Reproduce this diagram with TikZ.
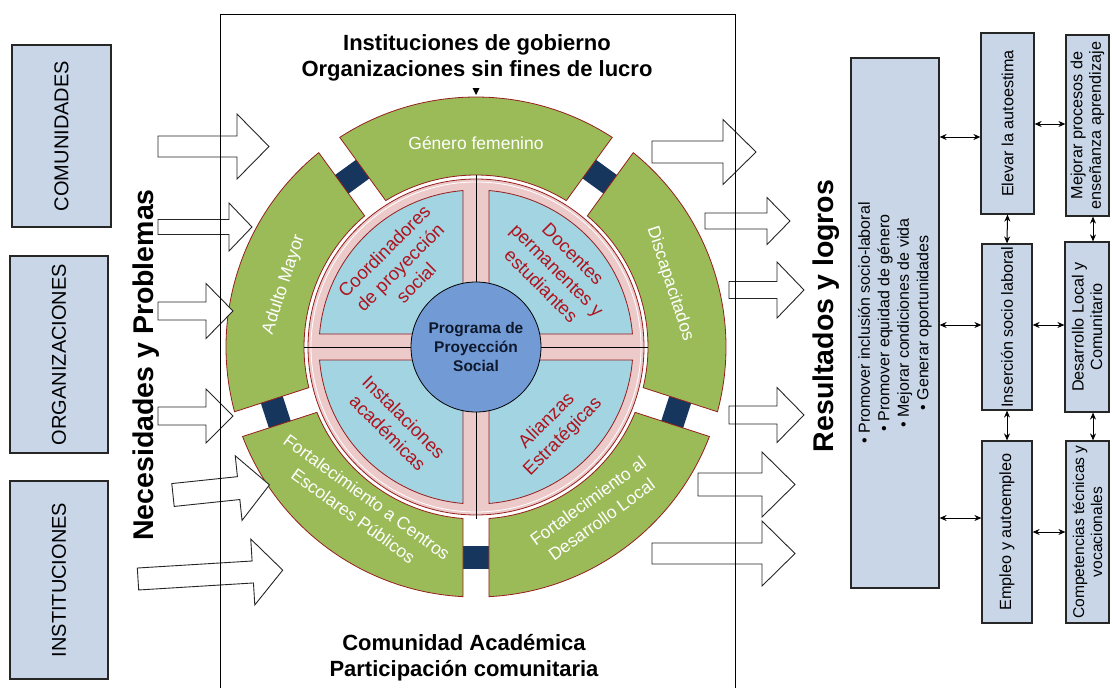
\documentclass[tikz,border=0pt]{standalone}
\usepackage{fontspec}
\setmainfont{Liberation Sans}
\usetikzlibrary{arrows.meta}
\definecolor{boxblue}{RGB}{200,214,232}
\definecolor{seggreen}{RGB}{155,187,89}
\definecolor{navyblue}{RGB}{23,54,93}
\definecolor{pinkring}{RGB}{236,202,202}
\definecolor{quadblue}{RGB}{163,212,226}
\definecolor{centerblue}{RGB}{114,155,214}
\definecolor{darkred}{RGB}{150,30,30}
\definecolor{qtextred}{RGB}{175,20,30}
\definecolor{centertext}{RGB}{15,25,45}
\newcommand{\FS}[2]{\fontsize{#1}{#2}\selectfont}
% block arrow: tail x, centre y, head-base x, tip x, shaft half, head half, angle
\newcommand{\blockarrow}[7]{%
  \begin{scope}[shift={(#1,#2)}, rotate=#7]
    \draw[barrow] (0,-#5) -- ({#3-#1},-#5) -- ({#3-#1},-#6) -- ({#4-#1},0)
      -- ({#3-#1},#6) -- ({#3-#1},#5) -- (0,#5) -- cycle;
  \end{scope}}
\newcommand{\wheelseg}[2]{%
  \draw[seg] ({#1+asin(13/172)}:172) -- ({#1+asin(13/250)}:250)
    arc[start angle={#1+asin(13/250)}, end angle={#2-asin(13/250)}, radius=250]
    -- ({#2-asin(13/172)}:172)
    arc[start angle={#2-asin(13/172)}, end angle={#1+asin(13/172)}, radius=172] -- cycle;}
\newcommand{\gapblock}[1]{%
  \draw[navyblk, rotate=#1] (199,-14) rectangle (222,14);}
\newcommand{\quadpiece}[1]{%
  \draw[quad, rotate=#1] (13,13) -- ({90-asin(13/157)}:157)
    arc[start angle={90-asin(13/157)}, end angle={asin(13/157)}, radius=157] -- cycle;}
\begin{document}
\begin{tikzpicture}[x=1pt, y=-1pt,
  barrow/.style={draw=black!85, fill=white, line width=0.9pt, line join=miter},
  seg/.style={fill=seggreen, draw=darkred, line width=0.8pt},
  navyblk/.style={fill=navyblue, draw=none},
  quad/.style={fill=quadblue, draw=darkred, line width=0.8pt},
  lbox/.style={draw=black!85, fill=boxblue, line width=1.2pt, inner sep=0pt},
  gtext/.style={text=white, font=\FS{17.5}{23}, align=center, inner sep=0pt},
  qt/.style={text=qtextred, font=\FS{18.5}{22.5}, align=center, inner sep=0pt},
  dbl/.style={{Stealth[length=7pt,width=6pt]}-{Stealth[length=7pt,width=6pt]}, line width=1pt},
  boxtext/.style={rotate=90, align=center, font=\FS{16.2}{18.5}, inner sep=0pt}]
\useasboundingbox (0,0) rectangle (1112,688);

% ---------- wheel ----------
\begin{scope}[shift={(476,347)}, y=1pt]
  \foreach \g in {54,126,198,270,342} {\gapblock{\g}}
  \wheelseg{54}{126}
  \wheelseg{126}{198}
  \wheelseg{198}{270}
  \wheelseg{270}{342}
  \wheelseg{-18}{54}
  \draw[fill=pinkring, draw=darkred, line width=0.8pt] (0,0) circle[radius=168];
  \draw[white, line width=0.8pt] (0,0) circle[radius=165];
  \quadpiece{0}
  \quadpiece{90}
  \quadpiece{180}
  \quadpiece{270}
  \draw[line width=0.8pt] (0,172) -- (0,-172);
  \draw[line width=0.8pt] (-172,0) -- (172,0);
  \node[circle, fill=centerblue, draw=black, line width=0.8pt, minimum size=130pt,
        inner sep=0pt, text=centertext, font=\bfseries\FS{15.5}{19}, align=center]
        (prog) at (0,0) {Programa de\\Proyección\\Social};
  \node[gtext] (gen) at (90:204) {Género femenino};
  \node[gtext, rotate=72] (adm) at (162:202) {Adulto Mayor};
  \node[gtext, rotate=-72] (dis) at (18:204) {Discapacitados};
  \node[gtext, rotate=-36] (fcp) at (234:197) {Fortalecimiento a Centros\\Escolares Públicos};
  \node[gtext, rotate=36] (fdl) at (306:202) {Fortalecimiento al\\Desarrollo Local};
  \node[qt, rotate=45] (coord) at (-76,80) {Coordinadores\\de proyección\\social};
  \node[qt, rotate=-45] (doc) at (81,77) {Docentes\\permanentes y\\estudiantes};
  \node[qt, rotate=-45] (inst) at (-80,-78) {Instalaciones\\académicas};
  \node[qt, rotate=45] (ali) at (79,-82) {Alianzas\\Estratégicas};
\end{scope}
\fill (472.5,88) -- (479.5,88) -- (476,95) -- cycle;

% ---------- block arrows ----------
\blockarrow{158}{146.5}{237}{269}{10.5}{32.5}{0}
\blockarrow{158}{227}{229}{252}{7.5}{24}{0}
\blockarrow{158}{311}{206}{233}{9}{27.5}{0}
\blockarrow{158}{416}{206}{233}{9}{27}{0}
\blockarrow{173}{495}{239}{270}{11.5}{32.5}{6}
\blockarrow{138}{579}{253}{283}{11}{33}{3.5}
\blockarrow{652}{152}{723}{756}{11}{32.5}{0}
\blockarrow{705}{221}{767}{790}{8}{23.5}{0}
\blockarrow{729}{290}{777}{804}{8.5}{28}{0}
\blockarrow{729}{415}{777}{804}{9}{27.5}{0}
\blockarrow{698}{484.5}{762}{795}{11.5}{32.5}{0}
\blockarrow{652}{553.5}{762}{795}{10.5}{32.5}{0}

% ---------- frame ----------
\draw[line width=1pt] (220,688) -- (220,14) -- (735,14) -- (735,688);

% ---------- titles ----------
\node[font=\bfseries\FS{22}{26}, align=center] (toptitle) at (477,58)
  {Instituciones de gobierno\\Organizaciones sin fines de lucro};
\node[font=\bfseries\FS{22}{26}, align=center] (bottitle) at (464,658)
  {Comunidad Académica\\Participación comunitaria};
\node[rotate=90, font=\bfseries\FS{28.5}{32}] (nec) at (146,365) {Necesidades y Problemas};
\node[rotate=90, font=\bfseries\FS{28.5}{32}] (res) at (826,316) {Resultados y logros};

% ---------- left boxes ----------
\node[lbox, minimum width=99pt, minimum height=182pt] (com) at (61.5,136) {};
\node[rotate=90, font=\FS{20}{24}] at (com) {COMUNIDADES};
\node[lbox, minimum width=98pt, minimum height=197pt] (org) at (59,354.5) {};
\node[rotate=90, font=\FS{20}{24}] at (org) {ORGANIZACIONES};
\node[lbox, minimum width=98pt, minimum height=198pt] (ins) at (59,580) {};
\node[rotate=90, font=\FS{20}{24}] at (ins) {INSTITUCIONES};

% ---------- right boxes ----------
\node[lbox, minimum width=88pt, minimum height=530pt] (big) at (895,323) {};
\node[boxtext, font=\FS{16}{19.5}] at (big) {• Promover inclusión socio-laboral\\• Promover equidad de género\\• Mejorar condiciones de vida\\• Generar oportunidades};
\node[lbox, minimum width=53pt, minimum height=181pt] (elev) at (1007.5,123.5) {};
\node[boxtext] at (elev) {Elevar la autoestima};
\node[lbox, minimum width=43pt, minimum height=181pt] (mej) at (1087.5,125.5) {};
\node[boxtext] at (mej) {Mejorar procesos de\\enseñanza aprendizaje};
\node[lbox, minimum width=50pt, minimum height=166pt] (inser) at (1007,327) {};
\node[boxtext] at (inser) {Inserción socio laboral};
\node[lbox, minimum width=44pt, minimum height=170pt] (des) at (1087,327) {};
\node[boxtext] at (des) {Desarrollo Local y\\Comunitario};
\node[lbox, minimum width=50pt, minimum height=182pt] (emp) at (1007,532) {};
\node[boxtext] at (emp) {Empleo y autoempleo};
\node[lbox, minimum width=43pt, minimum height=182pt] (comp) at (1087.5,532) {};
\node[boxtext, font=\FS{15.6}{18}] at (comp) {Competencias técnicas y\\vocacionales};

\path (0,137) coordinate (h1) (0,325) coordinate (h2) (0,518) coordinate (h3)
      (0,124) coordinate (h4) (0,532) coordinate (h5) (1093,0) coordinate (v2);
\draw[dbl] (big.east |- h1) -- (elev.west |- h1);
\draw[dbl] (big.east |- h2) -- (inser.west |- h2);
\draw[dbl] (big.east |- h3) -- (emp.west |- h3);
\draw[dbl] (elev.east |- h4) -- (mej.west |- h4);
\draw[dbl] (inser.east |- h2) -- (des.west |- h2);
\draw[dbl] (emp.east |- h5) -- (comp.west |- h5);
\draw[dbl] (elev.south) -- (inser.north);
\draw[dbl] (inser.south) -- (emp.north);
\draw[dbl] (mej.south -| v2) -- (des.north -| v2);
\draw[dbl] (des.south -| v2) -- (comp.north -| v2);
\end{tikzpicture}
\end{document}
